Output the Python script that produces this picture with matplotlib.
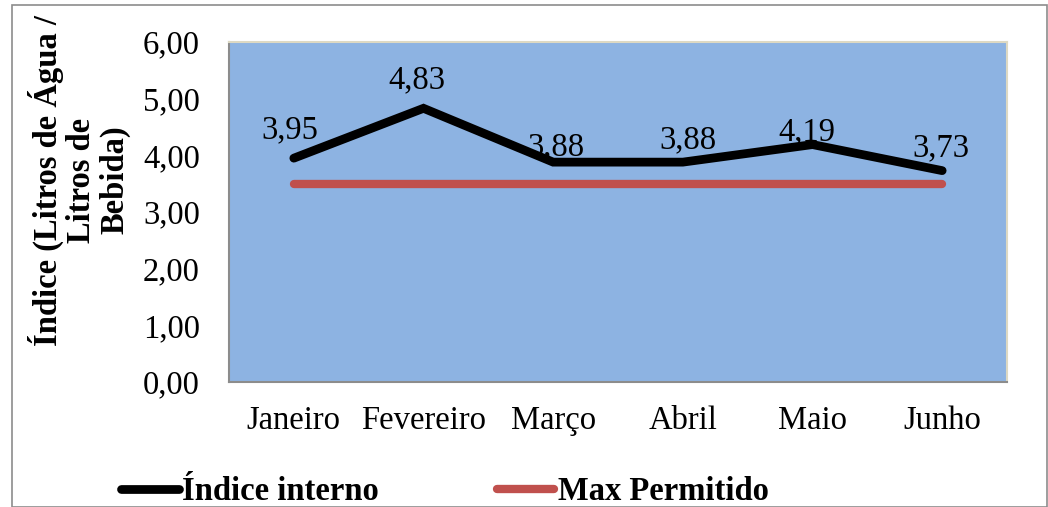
import matplotlib
matplotlib.use("Agg")
import matplotlib.pyplot as plt
from matplotlib.patches import Rectangle
from matplotlib.lines import Line2D

meses = ["Janeiro", "Fevereiro", "Março", "Abril", "Maio", "Junho"]
indice_interno = [3.95, 4.83, 3.88, 3.88, 4.19, 3.73]
max_permitido = [3.5, 3.5, 3.5, 3.5, 3.5, 3.5]
y_ticks = [0, 1, 2, 3, 4, 5, 6]

# label nudges (points) so the value labels sit clear of the line
label_dx = [-3, -5, 2, 4, -4, -1]
label_dy = [20, 20, 11, 16, 9, 16]

plt.rcParams["font.family"] = ["Liberation Serif", "DejaVu Serif"]
FS = 23.5

W, H = 1048, 507
fig = plt.figure(figsize=(W / 100, H / 100), dpi=100)

# outer chart frame
fig.patches.append(Rectangle((12 / W, 0), (W - 12) / W - 0.0005, (H - 5) / H,
                             transform=fig.transFigure, fill=False,
                             edgecolor="#8c8c8c", linewidth=1.2))

ax = fig.add_axes([229 / W, 1 - 382 / H, (1007 - 229) / W, (382 - 42) / H])
ax.set_facecolor("#8DB3E2")
x = list(range(len(meses)))

ax.plot(x, max_permitido, color="#C0504D", linewidth=6, solid_capstyle="round", zorder=2)
ax.plot(x, indice_interno, color="black", linewidth=6.3, solid_capstyle="round",
        solid_joinstyle="miter", zorder=3)

for xi, v, dx, dy in zip(x, indice_interno, label_dx, label_dy):
    ax.annotate(f"{v:.2f}".replace(".", ","), (xi, v), xytext=(dx, dy),
                textcoords="offset points", ha="center", va="center",
                fontsize=FS, zorder=4)

ax.set_xlim(-0.5, len(meses) - 0.5)
ax.set_ylim(0, 6)
ax.set_yticks(y_ticks)
ax.set_yticklabels([f"{t:.2f}".replace(".", ",") for t in y_ticks], fontsize=FS)
ax.set_xticks(x)
ax.set_xticklabels(meses, fontsize=FS)
ax.tick_params(axis="both", length=0)
ax.tick_params(axis="y", pad=21)
ax.tick_params(axis="x", pad=17)

for side in ("left", "bottom"):
    ax.spines[side].set_color("#8c8c8c")
    ax.spines[side].set_linewidth(1.5)
for side in ("top", "right"):
    ax.spines[side].set_color("#ddd9c3")
    ax.spines[side].set_linewidth(1.5)

fig.text(79 / W, 1 - 180 / H, "Índice (Litros de Água /\nLitros de\nBebida)",
         rotation=90, ha="center", va="center", fontsize=FS, fontweight="bold",
         linespacing=1.08)

handles = [Line2D([], [], color="black", linewidth=6.3, solid_capstyle="round"),
           Line2D([], [], color="#C0504D", linewidth=6, solid_capstyle="round")]
fig.legend(handles, ["Índice interno", "Max Permitido"], loc="center",
           bbox_to_anchor=(445 / W, 1 - 492 / H), ncol=2, frameon=False,
           prop={"weight": "bold", "size": FS}, handlelength=1.75, handletextpad=0.12,
           columnspacing=3.6, borderpad=0)

fig.savefig("out.png", dpi=100)
